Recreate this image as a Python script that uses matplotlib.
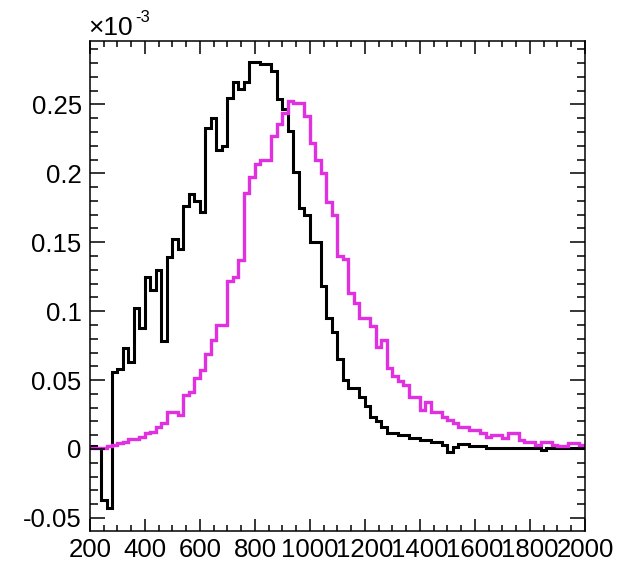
"""
Two overlaid 1D histograms, ROOT-like look (values in units of 1e-3)
"""
import numpy as np
import matplotlib
matplotlib.use("Agg")
import matplotlib.pyplot as plt
from matplotlib.ticker import MultipleLocator, FuncFormatter

plt.rcParams['font.family'] = ['Liberation Sans', 'DejaVu Sans']

# 90 bins of 20 from 200 to 2000
x_min, x_max, bin_w = 200, 2000, 20

black_vals = [
    0.002, 0.001, -0.037, -0.043, 0.056, 0.058, 0.073, 0.063, 0.1025, 0.088,
    0.125, 0.115, 0.130, 0.078, 0.139, 0.152, 0.145, 0.176, 0.185, 0.180,
    0.172, 0.233, 0.240, 0.217, 0.220, 0.255, 0.266, 0.261, 0.266, 0.281,
    0.281, 0.279, 0.279, 0.274, 0.254, 0.2465, 0.231, 0.2007, 0.175, 0.170,
    0.150, 0.150, 0.118, 0.095, 0.085, 0.065, 0.050, 0.044, 0.044, 0.038,
    0.031, 0.0235, 0.020, 0.016, 0.0115, 0.0115, 0.010, 0.010, 0.0078, 0.0078,
    0.0065, 0.0065, 0.0053, 0.005, 0.003, -0.002, 0.0015, 0.0036, 0.0036, 0.002,
    0.002, 0.002, 0.0005, 0.0005, 0.0005, 0.0005, 0.0005, 0.0005, 0.0005, 0.0005,
    0.0005, 0.0005, -0.001, 0.0005, 0.0005, 0.0005, 0.0005, 0.0005, 0.0005, 0.0005,
]

magenta_vals = [
    0.001, 0.001, 0.001, 0.002, 0.003, 0.004, 0.005, 0.007, 0.0075, 0.009,
    0.0114, 0.012, 0.016, 0.019, 0.027, 0.027, 0.025, 0.039, 0.041, 0.0515,
    0.057, 0.069, 0.079, 0.090, 0.090, 0.1216, 0.125, 0.137, 0.186, 0.197,
    0.2065, 0.210, 0.210, 0.227, 0.2355, 0.244, 0.2525, 0.251, 0.251, 0.2415,
    0.222, 0.210, 0.200, 0.179, 0.170, 0.140, 0.1375, 0.113, 0.106, 0.095,
    0.095, 0.089, 0.074, 0.079, 0.0587, 0.0526, 0.049, 0.0465, 0.038, 0.038,
    0.0284, 0.034, 0.027, 0.027, 0.0235, 0.021, 0.0187, 0.016, 0.016, 0.0138,
    0.0138, 0.0114, 0.009, 0.0102, 0.0102, 0.008, 0.0114, 0.0114, 0.0065, 0.0053,
    0.0053, 0.003, 0.0053, 0.0053, 0.003, 0.0022, 0.0022, 0.004, 0.004, 0.003,
]

x_ticks = [200, 400, 600, 800, 1000, 1200, 1400, 1600, 1800, 2000]
y_ticks = [-0.05, 0, 0.05, 0.1, 0.15, 0.2, 0.25]

edges = np.arange(x_min, x_max + bin_w, bin_w)

fig = plt.figure(figsize=(6.19, 5.62), dpi=100)
ax = fig.add_axes([0.1454, 0.0552, 0.7996, 0.8718])

ax.stairs(black_vals, edges, baseline=None, color='black', linewidth=2.2)
ax.stairs(magenta_vals, edges, baseline=None, color='#e030e0', linewidth=2.4)

ax.set_xlim(x_min, x_max)
ax.set_ylim(-0.0595, 0.296)

ax.set_xticks(x_ticks)
ax.set_yticks(y_ticks)
ax.xaxis.set_minor_locator(MultipleLocator(50))
ax.yaxis.set_minor_locator(MultipleLocator(0.01))
ax.yaxis.set_major_formatter(FuncFormatter(lambda v, p: '%g' % round(v, 4)))

ax.tick_params(which='both', direction='in', top=True, right=True,
               labelsize=18.5, width=1.1)
ax.tick_params(axis='y', which='major', length=11, pad=6)
ax.tick_params(axis='y', which='minor', length=6)
ax.tick_params(axis='x', which='major', length=9, pad=5)
ax.tick_params(axis='x', which='minor', length=4.5)
for s in ax.spines.values():
    s.set_linewidth(1.1)

# ROOT-style exponent label
fig.text(0.142, 0.938, '\u00d710', fontsize=19)
fig.text(0.219, 0.96, '-3', fontsize=12)

fig.savefig('out.png', dpi=100)
